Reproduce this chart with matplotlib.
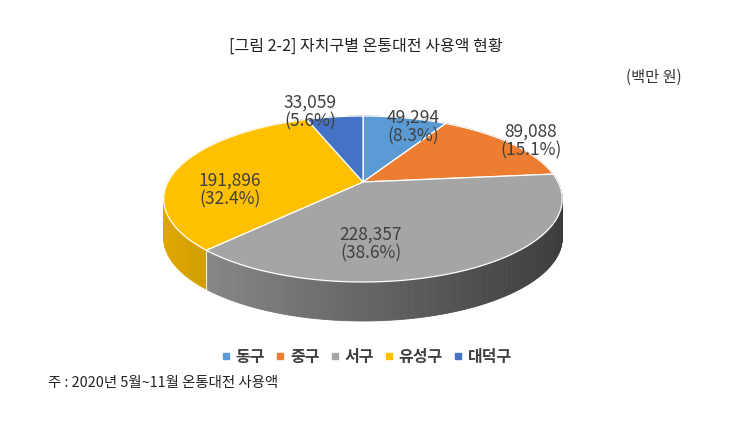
import numpy as np
import matplotlib
matplotlib.use('Agg')
import matplotlib.pyplot as plt
from matplotlib.patches import Polygon
from matplotlib.lines import Line2D

plt.rcParams['font.family'] = ['Noto Sans CJK KR', 'DejaVu Sans']

# data (백만 원)
districts = ['동구', '중구', '서구', '유성구', '대덕구']
amounts = [49294, 89088, 228357, 191896, 33059]
colors = ['#5B9BD5', '#ED7D31', '#A5A5A5', '#FFC000', '#4472C4']

title = '[그림 2-2] 자치구별 온통대전 사용액 현황'
unit = '(백만 원)'
note = '주 : 2020년 5월~11월 온통대전 사용액'

# layout of the 3d pie (figure pixels)
cx, cy = 363, 182
sx, sy = 195, 79.5
k = 0.205          # perspective strength
depth = 39
label_pos = [(413, 127), (531, 141), (371, 244), (230, 190), (310, 112)]


def rim(theta, r=1.0):
    u = r * np.sin(theta)
    v = r * np.cos(theta)
    den = 1 + k * v
    return cx + sx * u / den, cy - sy * v / den


def shade(col, x):
    xn = (x - cx) / sx
    f = 0.62 - 0.25 * xn
    rgb = np.array(matplotlib.colors.to_rgb(col))
    return tuple(np.clip(rgb * f, 0, 1))


fig = plt.figure(figsize=(7.3, 4.26), dpi=100)
ax = fig.add_axes([0, 0, 1, 1])
ax.set_xlim(0, 730)
ax.set_ylim(426, 0)
ax.axis('off')

total = sum(amounts)
fracs = np.array(amounts) / total
bounds = np.concatenate([[0], np.cumsum(fracs)]) * 2 * np.pi

# side walls, back to front
strips = []
for i in range(len(amounts)):
    t = np.linspace(bounds[i], bounds[i + 1], max(3, int(np.degrees(bounds[i + 1] - bounds[i]))))
    for a, b in zip(t[:-1], t[1:]):
        x1, y1 = rim(a)
        x2, y2 = rim(b)
        pts = [(x1, y1), (x2, y2), (x2, y2 + depth), (x1, y1 + depth)]
        strips.append((np.cos((a + b) / 2), pts, shade(colors[i], (x1 + x2) / 2)))
strips.sort(key=lambda s: -s[0])
for _, pts, c in strips:
    ax.add_patch(Polygon(pts, closed=True, facecolor=c, edgecolor=c, lw=0.6))

# white seams on the visible wall
for b in bounds[1:-1]:
    if np.cos(b) < 0:
        x, y = rim(b)
        ax.plot([x, x], [y, y + depth], color='white', lw=0.9, alpha=0.8)

# top face
for i in range(len(amounts)):
    t = np.linspace(bounds[i], bounds[i + 1], 200)
    xs, ys = rim(t)
    pts = [(cx, cy)] + list(zip(xs, ys))
    ax.add_patch(Polygon(pts, closed=True, facecolor=colors[i], edgecolor='white', lw=0.9))

# data labels
for (lx, ly), amt, fr in zip(label_pos, amounts, fracs):
    ax.text(lx, ly, f'{amt:,}\n({fr * 100:.1f}%)', ha='center', va='center',
            fontsize=12.5, color='#404040', linespacing=1.05, weight='medium')

ax.text(366, 46, title, ha='center', va='center', fontsize=11.5, color='#222222')
ax.text(682, 77, unit, ha='right', va='center', fontsize=11, color='#333333')
ax.text(48, 383, note, ha='left', va='center', fontsize=10.4, color='#222222')

handles = [Line2D([], [], marker='s', ls='none', markersize=4, color=c) for c in colors]
leg = ax.legend(handles, districts, loc='center', bbox_to_anchor=(367 / 730, 1 - 357 / 426),
                ncol=5, frameon=False, handlelength=0.5, handletextpad=0.35,
                columnspacing=0.7, prop={'size': 11.5, 'weight': 'bold'})
for txt in leg.get_texts():
    txt.set_color('#404040')

fig.savefig('out.png', dpi=100)
